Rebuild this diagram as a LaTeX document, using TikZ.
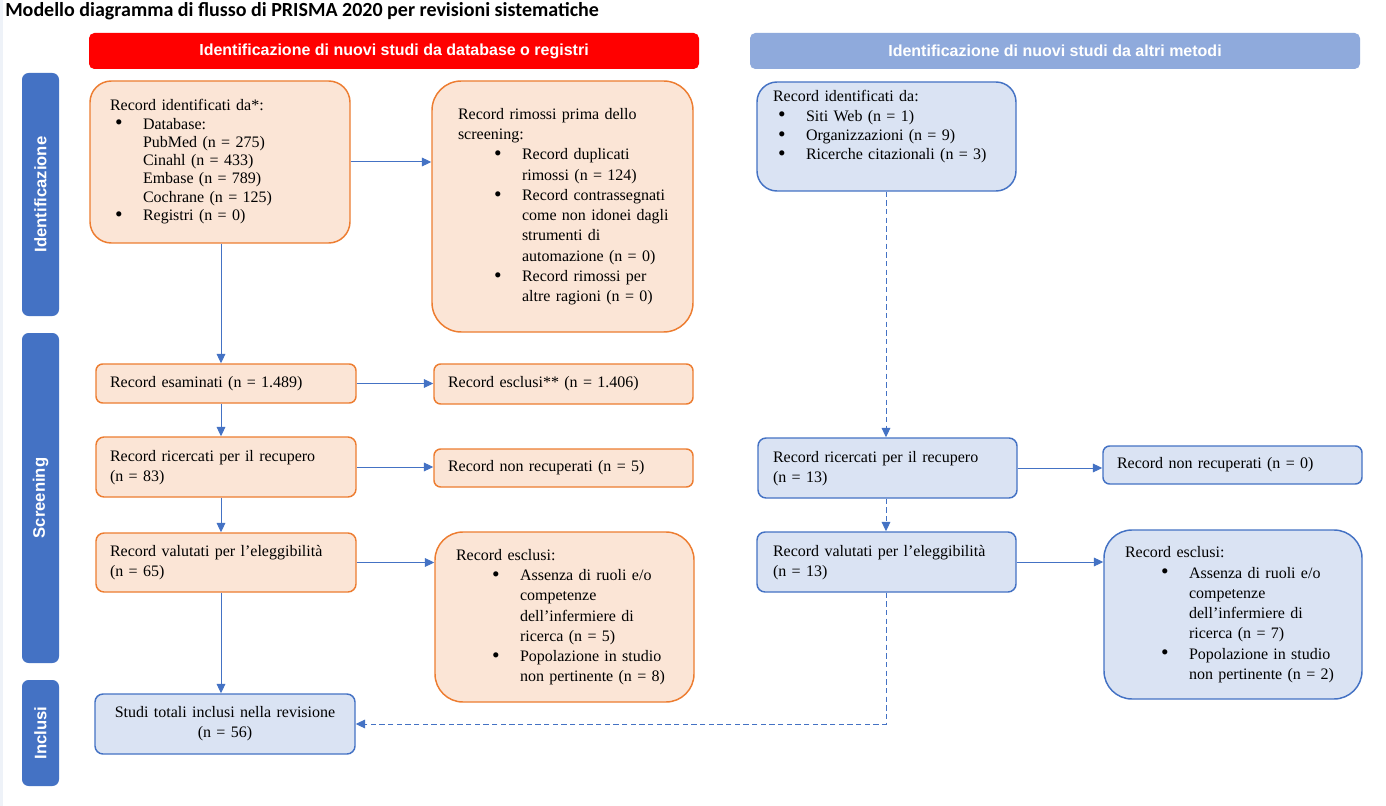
\documentclass[tikz,border=0pt]{standalone}
\usepackage{fontspec}
\setmainfont{Liberation Serif}
\newfontfamily\hdrfont{Liberation Sans}
\newfontfamily\ttlfont{Carlito}
\usetikzlibrary{arrows.meta}
\definecolor{ofill}{HTML}{FBE5D6}
\definecolor{oline}{HTML}{ED7D31}
\definecolor{bfill}{HTML}{DAE3F3}
\definecolor{bline}{HTML}{4472C4}
\definecolor{hred}{HTML}{FF0000}
\definecolor{hblue}{HTML}{8FAADC}
\definecolor{sbar}{HTML}{4472C4}
\definecolor{edge}{HTML}{EEF2F8}
\newcommand\lsp[1]{\fontsize{12}{#1}\selectfont}
\newcommand\bul{\raisebox{-0.6pt}{\scalebox{1.35}{\textbullet}}}
\newcommand\bA[1]{\hspace*{3.75pt}\makebox[21pt][l]{\bul}#1}
\newcommand\cA{\hspace*{24.75pt}}
\newcommand\bB[1]{\hspace*{27pt}\makebox[21pt][l]{\bul}#1}
\newcommand\cB{\hspace*{48pt}}
\tikzset{
  bx/.style={draw, line width=1.1pt, inner ysep=0pt, align=left},
  obox/.style={bx, draw=oline, fill=ofill},
  bbox/.style={bx, draw=bline, fill=bfill},
  hdr/.style={rounded corners=4pt, minimum width=457.5pt, minimum height=27pt, text=white,
     font=\hdrfont\bfseries\fontsize{12}{14}\selectfont, inner sep=0pt},
  side/.style={fill=sbar, rounded corners=5pt, rotate=90, minimum height=27.75pt, text=white,
     font=\hdrfont\bfseries\fontsize{12.5}{14}\selectfont, inner sep=0pt},
  arr/.style={draw=bline, line width=0.75pt, -{Triangle[length=7pt,width=6.5pt]}},
  dsh/.style={arr, dash pattern=on 4pt off 2.5pt}
}
\begin{document}
\begin{tikzpicture}[x=0.75pt,y=-0.75pt]
\useasboundingbox (0,0) rectangle (1386,806);
\fill[white] (0,0) rectangle (1386,806);
\fill[edge] (0,0) rectangle (3,806);
% title
\node[anchor=west, inner sep=0pt, font=\ttlfont\bfseries\fontsize{15}{17}\selectfont] (title) at (5,11)
  {Modello diagramma di flusso di PRISMA 2020 per revisioni sistematiche};
% headers
\node[hdr, fill=hred] (h1) at (394,51) {Identificazione di nuovi studi da database o registri};
\node[hdr, fill=hblue] (h2) at (1055,51) {Identificazione di nuovi studi da altri metodi};
% side bars
\node[side, minimum width=182.25pt] (s1) at (40.5,194.5) {Identificazione};
\node[side, minimum width=247.5pt] (s2) at (40.5,498) {Screening};
\node[side, minimum width=79.5pt] (s3) at (40.5,733) {Inclusi};
% left column
\node[obox, rounded corners=16pt, minimum width=195pt, minimum height=121.5pt, inner xsep=15pt, text width=165pt, font=\lsp{13.7pt}] (id1) at (220,162)
 {\begin{tabular}{@{}l@{}}Record identificati da*:\\
 \bA{Database:}\\
 \cA PubMed (n = 275)\\
 \cA Cinahl (n = 433)\\
 \cA Embase (n = 789)\\
 \cA Cochrane (n = 125)\\
 \bA{Registri (n = 0)}\end{tabular}};
\node[obox, rounded corners=22pt, minimum width=195.75pt, minimum height=188.25pt, inner xsep=19.5pt, text width=156.75pt, font=\lsp{15.2pt}] (rim) at (562.5,206.5)
 {\begin{tabular}{@{}l@{}}Record rimossi prima dello\\
 screening:\\
 \bB{Record duplicati}\\
 \cB rimossi (n = 124)\\
 \bB{Record contrassegnati}\\
 \cB come non idonei dagli\\
 \cB strumenti di\\
 \cB automazione (n = 0)\\
 \bB{Record rimossi per}\\
 \cB altre ragioni (n = 0)\end{tabular}};
\node[obox, rounded corners=5pt, minimum width=195pt, minimum height=29.25pt, inner xsep=10.5pt, text width=174pt, font=\lsp{15pt}] (esam) at (226,383.5)
 {Record esaminati (n = 1.489)};
\node[obox, rounded corners=5pt, minimum width=194.25pt, minimum height=30pt, inner xsep=10.5pt, text width=173.25pt, font=\lsp{15pt}] (escl) at (563.5,384)
 {Record esclusi** (n = 1.406)};
\node[obox, rounded corners=6pt, minimum width=195pt, minimum height=45pt, inner xsep=10.5pt, text width=174pt, font=\lsp{15pt}] (ric) at (226,467)
 {\begin{tabular}{@{}l@{}}Record ricercati per il recupero\\(n = 83)\end{tabular}};
\node[obox, rounded corners=5pt, minimum width=194.25pt, minimum height=28.5pt, inner xsep=10.5pt, text width=173.25pt, font=\lsp{15pt}] (nonrec) at (563.5,468)
 {Record non recuperati (n = 5)};
\node[obox, rounded corners=6pt, minimum width=195pt, minimum height=44.25pt, inner xsep=10.5pt, text width=174pt, font=\lsp{15pt}] (val) at (226,562.5)
 {\begin{tabular}{@{}l@{}}Record valutati per l’eleggibilità\\(n = 65)\end{tabular}};
\node[obox, rounded corners=21pt, minimum width=194.25pt, minimum height=127.5pt, inner xsep=15.75pt, text width=162.75pt, font=\lsp{15.2pt}] (escl2) at (564.5,617)
 {\begin{tabular}{@{}l@{}}Record esclusi:\\
 \bB{Assenza di ruoli e/o}\\
 \cB competenze\\
 \cB dell’infermiere di\\
 \cB ricerca (n = 5)\\
 \bB{Popolazione in studio}\\
 \cB non pertinente (n = 8)\end{tabular}};
\node[bbox, rounded corners=6pt, minimum width=195pt, minimum height=45pt, inner xsep=10pt, text width=175pt, align=center, font=\lsp{15pt}] (incl) at (225,724)
 {Studi totali inclusi nella revisione\\(n = 56)};
% right column
\node[bbox, rounded corners=15pt, minimum width=194.25pt, minimum height=81.75pt, inner xsep=12pt, text width=170.25pt, font=\lsp{14.5pt}] (id2) at (886.5,136.5)
 {\begin{tabular}{@{}l@{}}Record identificati da:\\
 \bA{Siti Web (n = 1)}\\
 \bA{Organizzazioni (n = 9)}\\
 \bA{Ricerche citazionali (n = 3)}\\
 \mbox{}\end{tabular}};
\node[bbox, rounded corners=6pt, minimum width=194.25pt, minimum height=45pt, inner xsep=11.25pt, text width=171.75pt, font=\lsp{15pt}] (ric2) at (887.5,468)
 {\begin{tabular}{@{}l@{}}Record ricercati per il recupero\\(n = 13)\end{tabular}};
\node[bbox, rounded corners=5pt, minimum width=194.25pt, minimum height=28.5pt, inner xsep=10.5pt, text width=173.25pt, font=\lsp{15pt}] (nonrec2) at (1232.5,465)
 {Record non recuperati (n = 0)};
\node[bbox, rounded corners=6pt, minimum width=194.25pt, minimum height=45pt, inner xsep=12pt, text width=170.25pt, font=\lsp{15pt}] (val2) at (886.5,562)
 {\begin{tabular}{@{}l@{}}Record valutati per l’eleggibilità\\(n = 13)\end{tabular}};
\node[bbox, rounded corners=21pt, minimum width=193.5pt, minimum height=126.75pt, inner xsep=15.75pt, text width=162pt, font=\lsp{15.2pt}] (escl3) at (1233,614.5)
 {\begin{tabular}{@{}l@{}}Record esclusi:\\
 \bB{Assenza di ruoli e/o}\\
 \cB competenze\\
 \cB dell’infermiere di\\
 \cB ricerca (n = 7)\\
 \bB{Popolazione in studio}\\
 \cB non pertinente (n = 2)\end{tabular}};
% connectors
\coordinate (cx) at (221,0);
\coordinate (rx) at (886,0);
\draw[arr] (id1.south -| cx) -- (esam.north -| cx);
\draw[arr] (id1.east) -- (id1.east -| rim.west);
\draw[arr] (esam.east) -- (esam.east -| escl.west);
\draw[arr] (esam.south -| cx) -- (ric.north -| cx);
\draw[arr] (ric.east) -- (ric.east -| nonrec.west);
\draw[arr] (ric.south -| cx) -- (val.north -| cx);
\draw[arr] (val.east) -- (val.east -| escl2.west);
\draw[arr] (val.south -| cx) -- (incl.north -| cx);
\draw[dsh] (id2.south -| rx) -- (ric2.north -| rx);
\draw[arr] (ric2.east) -- (ric2.east -| nonrec2.west);
\draw[dsh] (ric2.south -| rx) -- (val2.north -| rx);
\draw[arr] (val2.east) -- (val2.east -| escl3.west);
\draw[dsh] (val2.south -| rx) -- (incl.east -| rx) -- (incl.east);
\end{tikzpicture}
\end{document}
